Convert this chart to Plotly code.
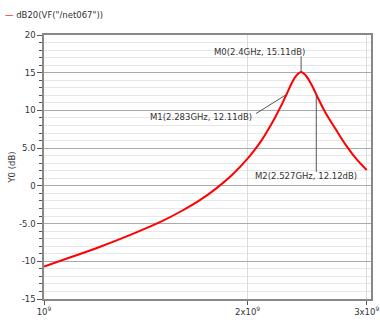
import math
import plotly.graph_objects as go

# Data (frequency in GHz, gain in dB)
freq_ghz = [1.00, 1.10, 1.20, 1.30, 1.40, 1.50, 1.60, 1.70, 1.80, 1.90, 2.00,
            2.05, 2.10, 2.15, 2.20, 2.25, 2.283, 2.33, 2.36, 2.40, 2.44, 2.48,
            2.527, 2.60, 2.70, 2.80, 2.90, 3.00]
gain_db = [-10.7, -9.4, -8.2, -7.0, -5.8, -4.6, -3.3, -1.9, -0.3, 1.5, 3.6,
           4.8, 6.1, 7.6, 9.2, 10.9, 12.11, 13.8, 14.6, 15.11, 14.6, 13.6,
           12.12, 9.9, 7.5, 5.3, 3.5, 2.1]
freq_hz = [f * 1e9 for f in freq_ghz]

marker_names = ["M0", "M1", "M2"]
marker_freq_ghz = [2.4, 2.283, 2.527]
marker_db = [15.11, 12.11, 12.12]

x_tickvals = [1e9, 2e9, 3e9]
x_ticktext = ["10<sup>9</sup>", "2x10<sup>9</sup>", "3x10<sup>9</sup>"]
y_tickvals = [20, 15, 10, 5, 0, -5, -10, -15]
y_ticktext = ["20", "15", "10", "5.0", "0", "-5.0", "-10", "-15"]

trace_name = 'dB20(VF("/net067"))'

fig = go.Figure()
fig.add_trace(go.Scatter(x=freq_hz, y=gain_db, mode="lines", name=trace_name,
                         line=dict(color="#ff0000", width=2, shape="spline", smoothing=1.0),
                         showlegend=False, hoverinfo="skip"))

FONT = "DejaVu Sans"
TXT = "#333333"

# leader-line tail offsets (px, screen y down) and label offsets (px, y up)
arrow_off = [(0, -17), (-32, 20), (0, 79)]
label_off = [(-42, 20), (-85, -22), (-10, -82)]
annotations = []
for name, f, d, (ax, ay), (lx, ly) in zip(marker_names, marker_freq_ghz, marker_db, arrow_off, label_off):
    xl = math.log10(f * 1e9)
    annotations.append(dict(x=xl, y=d, xref="x", yref="y", text="", showarrow=True,
                            arrowhead=0, arrowwidth=1, arrowcolor="#555555",
                            ax=ax, ay=ay, standoff=0))
    annotations.append(dict(x=xl, y=d, xref="x", yref="y",
                            text=f"{name}({f:g}GHz, {d:.2f}dB)", showarrow=False,
                            xshift=lx, yshift=ly,
                            font=dict(family=FONT, size=8.5, color=TXT)))

# legend-like header
annotations.append(dict(xref="paper", yref="paper", x=-0.125, y=1.076,
                        xanchor="left", yanchor="middle", showarrow=False,
                        text=f'<span style="color:#ff0000">—</span> {trace_name}',
                        font=dict(family=FONT, size=8.5, color=TXT)))

fig.update_layout(
    width=380, height=320,
    margin=dict(l=44, r=9, t=35, b=21),
    paper_bgcolor="white", plot_bgcolor="white",
    font=dict(family=FONT, size=8.5, color=TXT),
    annotations=annotations,
    showlegend=False,
)
fig.update_xaxes(type="log", range=[9, 9.4835], automargin=False,
                 tickvals=x_tickvals, ticktext=x_ticktext,
                 showgrid=True, gridcolor="#dddddd", gridwidth=1,
                 ticks="outside", ticklen=4, tickcolor="#555555",
                 showline=True, linecolor="#888888", linewidth=1.5, mirror=True,
                 tickfont=dict(family=FONT, size=8.5, color=TXT), zeroline=False)
fig.update_yaxes(range=[-15, 20], tickvals=y_tickvals, ticktext=y_ticktext,
                 automargin=False,
                 showgrid=True, gridcolor="#aaaaaa", gridwidth=1,
                 ticks="outside", ticklen=5, tickcolor="#555555",
                 minor=dict(dtick=1, showgrid=True, gridcolor="#e8e8e8",
                            ticks="outside", ticklen=3, tickcolor="#555555"),
                 showline=True, linecolor="#888888", linewidth=1.5, mirror=True,
                 zeroline=False,
                 title=dict(text="Y0 (dB)", font=dict(family=FONT, size=8.5, color=TXT), standoff=2),
                 tickfont=dict(family=FONT, size=8.5, color=TXT))

fig.write_html("out.html", config={"displayModeBar": False},
               post_script="document.body.style.margin='0';document.body.style.overflow='hidden';")
